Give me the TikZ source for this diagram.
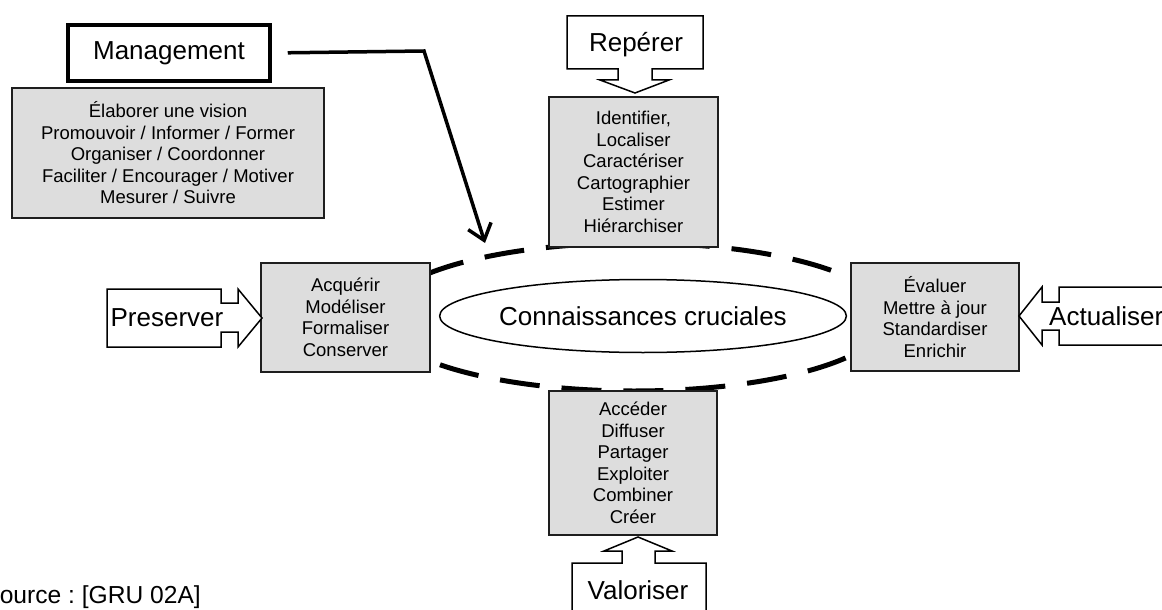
\documentclass[tikz,border=0pt]{standalone}
\usepackage{fontspec}
\setmainfont{Liberation Sans}
\usetikzlibrary{arrows.meta,shapes.geometric}
\definecolor{boxgray}{RGB}{221,221,221}
\definecolor{edgegray}{RGB}{30,30,30}
\tikzset{
  graybox/.style={draw=edgegray, line width=1.5pt, fill=boxgray, align=center,
    inner sep=0pt, font=\fontsize{18.5}{21.5}\selectfont},
  callout/.style={draw=black, line width=1.5pt, fill=white, line join=miter},
  biglabel/.style={inner sep=0pt, font=\fontsize{26}{30}\selectfont},
  crucial/.style={draw=black, line width=5pt, dash pattern=on 40pt off 22pt},
  mgmtarrow/.style={draw=black, line width=3.5pt, line join=miter,
    -{Straight Barb[length=15pt,width=24pt]}}
}
\begin{document}
\frenchspacing
\begin{tikzpicture}[x=1pt,y=-1pt]
\useasboundingbox (0,0) rectangle (1162,610);

% dashed outer ellipse
\draw[crucial] (634,317) ellipse [x radius=254, y radius=74];

% inner ellipse
\node[draw=black, line width=1.5pt, ellipse, inner sep=0pt,
      minimum width=340pt, minimum height=73pt, biglabel] (core) at (643,316)
      {Connaissances cruciales};

% management
\node[draw=black, line width=3.5pt, minimum width=202pt, minimum height=56pt,
      inner sep=0pt, biglabel] (mgmt) at (169,53) {Management};
\node[graybox, minimum width=312pt, minimum height=130pt] (mgmtlist) at (168,153)
  {Élaborer une vision\\Promouvoir / Informer / Former\\Organiser / Coordonner\\Faciliter / Encourager / Motiver\\Mesurer / Suivre};

% gray activity boxes
\node[graybox, minimum width=169pt, minimum height=150pt] (rep) at (633.5,172)
  {Identifier,\\Localiser\\Caractériser\\Cartographier\\Estimer\\Hiérarchiser};
\node[graybox, minimum width=169pt, minimum height=109pt] (pres) at (345.5,317.5)
  {Acquérir\\Modéliser\\Formaliser\\Conserver};
\node[graybox, minimum width=168pt, minimum height=108pt] (act) at (935,317)
  {Évaluer\\Mettre à jour\\Standardiser\\Enrichir};
\node[graybox, minimum width=168pt, minimum height=144pt] (val) at (633,463)
  {Accéder\\Diffuser\\Partager\\Exploiter\\Combiner\\Créer};

% callout arrows
\draw[callout] (567,16) -- (703,16) -- (703,69) -- (652,69) -- (652,80) -- (669,80)
  -- (635,93) -- (600,80) -- (618,80) -- (618,69) -- (567,69) -- cycle;
\node[biglabel] (repl) at (636,45) {Repérer};

\draw[callout] (107,289) -- (221,289) -- (221,303) -- (238,303) -- (238,289)
  -- (262,318) -- (238,347) -- (238,332) -- (221,332) -- (221,347) -- (107,347) -- cycle;
\node[biglabel] (presl) at (167,318) {Preserver};

\draw[callout] (1019,316) -- (1042,287) -- (1042,302) -- (1059,302) -- (1059,287)
  -- (1200,287) -- (1200,345) -- (1059,345) -- (1059,330) -- (1042,330) -- (1042,345) -- cycle;
\node[biglabel, anchor=west] (actl) at (1049,316) {Actualiser};

\draw[callout] (638,537) -- (672,551) -- (655,551) -- (655,563) -- (706,563) -- (706,650)
  -- (572,650) -- (572,563) -- (622,563) -- (622,551) -- (604,551) -- cycle;
\node[biglabel] (vall) at (638,590) {Valoriser};

% management arrow
\coordinate (bend) at (424,51);
\coordinate (tip) at (485,243);
\draw[mgmtarrow, shorten <=16pt] (mgmt.east) -- (bend) -- (tip);

% source
\node[anchor=base east, inner sep=0pt, font=\fontsize{24.6}{28}\selectfont] (src) at (201,603.5)
  {Source : [GRU 02A]};
\end{tikzpicture}
\end{document}
